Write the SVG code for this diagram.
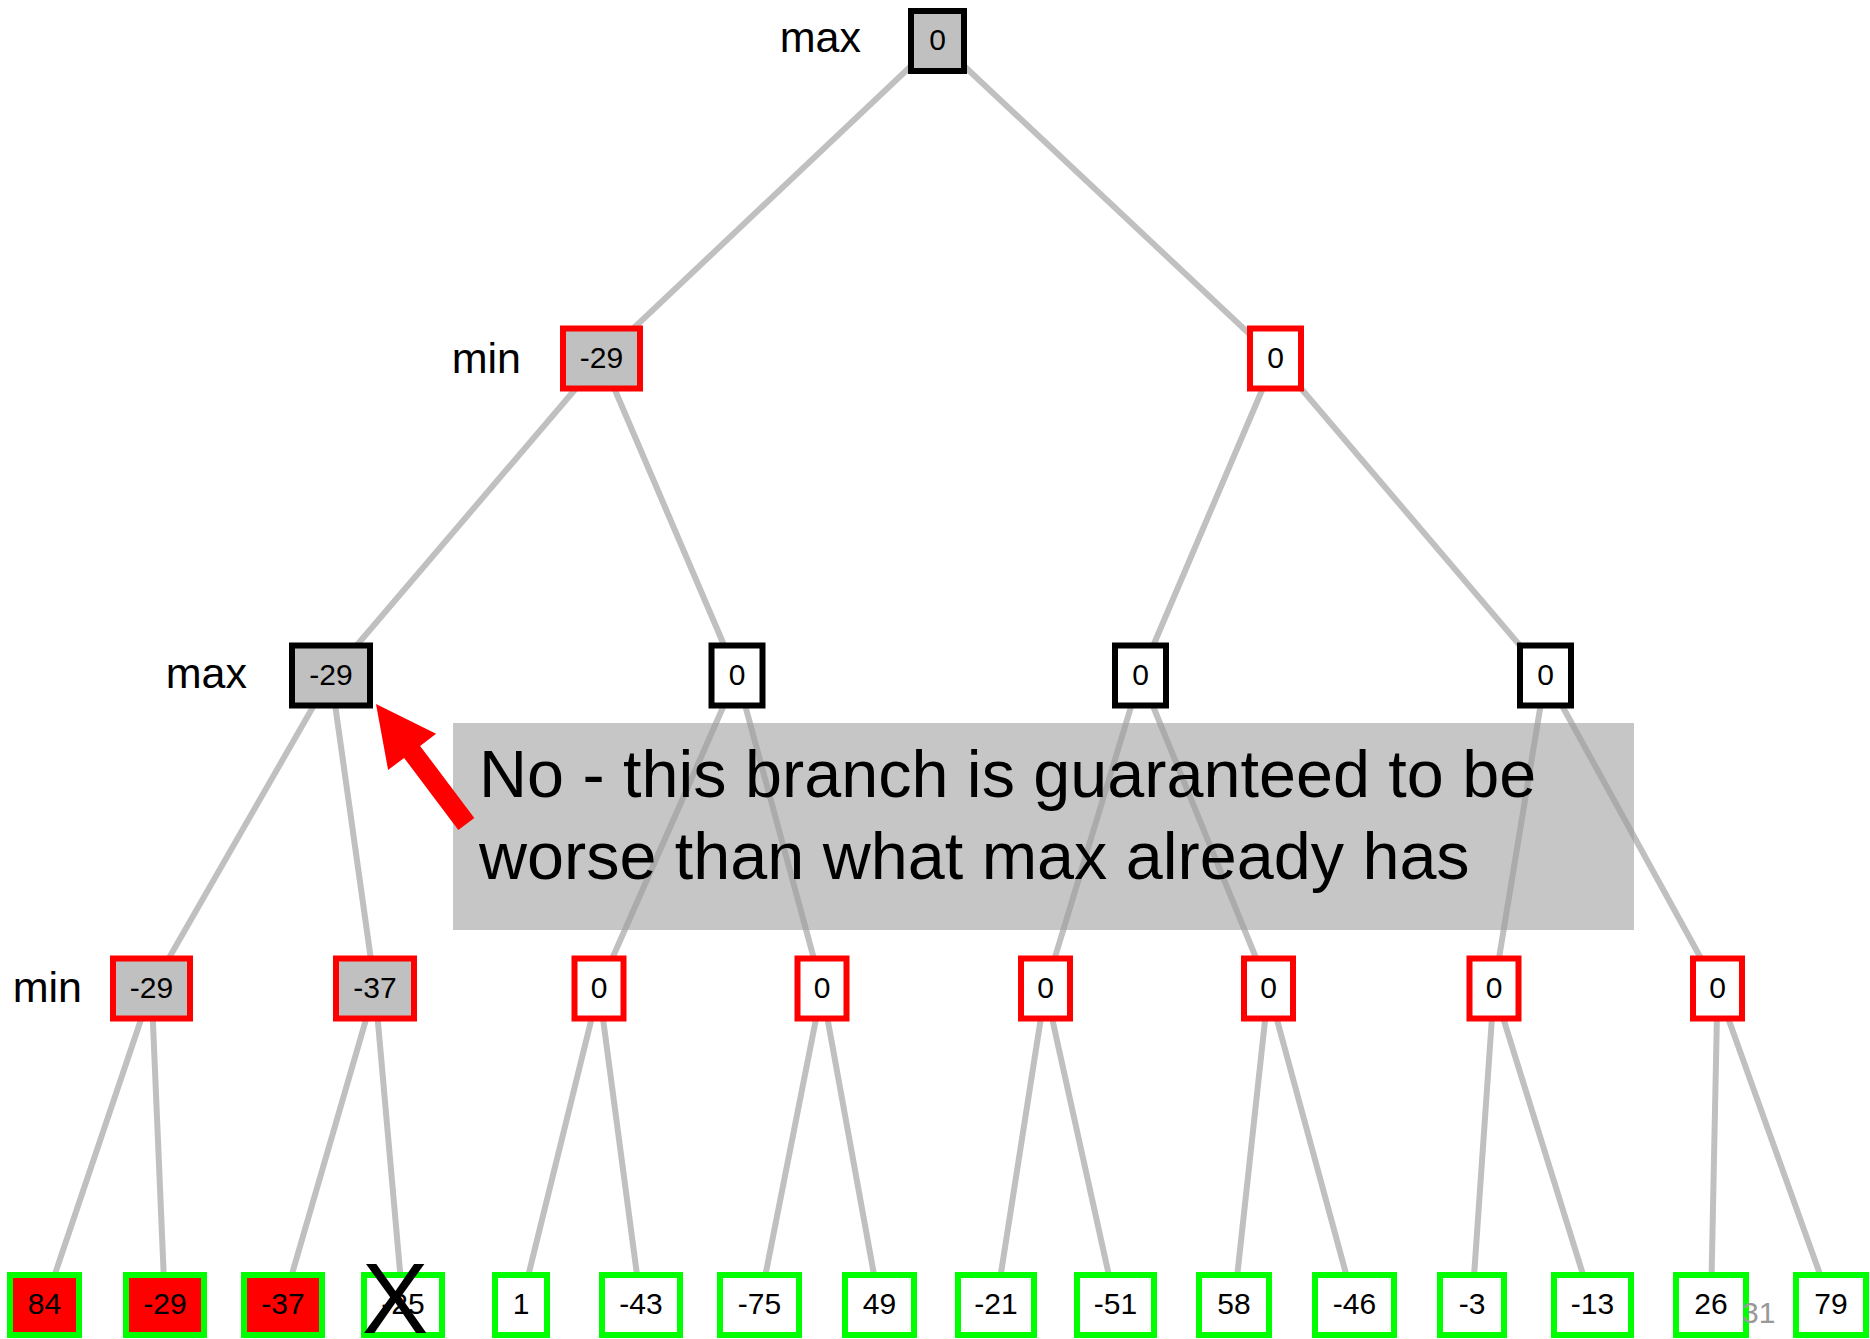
<svg xmlns="http://www.w3.org/2000/svg" width="1870" height="1339" viewBox="0 0 1870 1339">
<style>
.n rect{stroke-width:6}
.n text{font-family:"Liberation Sans",Arial,sans-serif;font-size:30px;text-anchor:middle;fill:#000}
.gray rect{fill:#c0c0c0}
.white rect{fill:#fff}
.redf rect{fill:#ff0000}
.sk rect{stroke:#000}
.sr rect{stroke:#ff0000}
.sg rect{stroke:#00ff00}
.lbl{font-family:"Liberation Sans",Arial,sans-serif;font-size:43px;fill:#000;text-anchor:end}
#edges line{stroke:#c0c0c0;stroke-width:6;stroke-linecap:round}
</style>
<rect width="1870" height="1339" fill="#fff"/>
<g id="edges">
<line x1="937.5" y1="41" x2="601.5" y2="358.5"/>
<line x1="937.5" y1="41" x2="1275.5" y2="358.5"/>
<line x1="601.5" y1="358.5" x2="331" y2="675.5"/>
<line x1="601.5" y1="358.5" x2="737" y2="675.5"/>
<line x1="1275.5" y1="358.5" x2="1140.5" y2="675.5"/>
<line x1="1275.5" y1="358.5" x2="1545.5" y2="675.5"/>
<line x1="331" y1="675.5" x2="151.5" y2="988.5"/>
<line x1="331" y1="675.5" x2="375" y2="988.5"/>
<line x1="737" y1="675.5" x2="599" y2="988.5"/>
<line x1="737" y1="675.5" x2="822" y2="988.5"/>
<line x1="1140.5" y1="675.5" x2="1045.5" y2="988.5"/>
<line x1="1140.5" y1="675.5" x2="1268.5" y2="988.5"/>
<line x1="1545.5" y1="675.5" x2="1494" y2="988.5"/>
<line x1="1545.5" y1="675.5" x2="1717.5" y2="988.5"/>
<line x1="151.5" y1="988.5" x2="44.5" y2="1305"/>
<line x1="151.5" y1="988.5" x2="165" y2="1305"/>
<line x1="375" y1="988.5" x2="283" y2="1305"/>
<line x1="375" y1="988.5" x2="403" y2="1305"/>
<line x1="599" y1="988.5" x2="521" y2="1305"/>
<line x1="599" y1="988.5" x2="641" y2="1305"/>
<line x1="822" y1="988.5" x2="759.5" y2="1305"/>
<line x1="822" y1="988.5" x2="879.5" y2="1305"/>
<line x1="1045.5" y1="988.5" x2="996" y2="1305"/>
<line x1="1045.5" y1="988.5" x2="1115.5" y2="1305"/>
<line x1="1268.5" y1="988.5" x2="1234" y2="1305"/>
<line x1="1268.5" y1="988.5" x2="1354.5" y2="1305"/>
<line x1="1494" y1="988.5" x2="1472" y2="1305"/>
<line x1="1494" y1="988.5" x2="1592.5" y2="1305"/>
<line x1="1717.5" y1="988.5" x2="1711" y2="1305"/>
<line x1="1717.5" y1="988.5" x2="1831" y2="1305"/>
</g>
<g id="labels">
<text class="lbl" x="861" y="52">max</text>
<text class="lbl" x="521" y="373">min</text>
<text class="lbl" x="247" y="688">max</text>
<text class="lbl" x="82" y="1002">min</text>
</g>
<g id="root" class="n gray sk"><rect x="911" y="11" width="53" height="60"/><text x="937.5" y="50">0</text></g>
<g id="l1a" class="n gray sr"><rect x="563" y="328.5" width="77" height="60"/><text x="601.5" y="367.5">-29</text></g>
<g id="l1b" class="n white sr"><rect x="1250" y="328.5" width="51" height="60"/><text x="1275.5" y="367.5">0</text></g>
<g id="l2a" class="n gray sk"><rect x="292" y="645.5" width="78" height="60"/><text x="331" y="684.5">-29</text></g>
<g id="l2b" class="n white sk"><rect x="711.5" y="645.5" width="51" height="60"/><text x="737" y="684.5">0</text></g>
<g id="l2c" class="n white sk"><rect x="1115" y="645.5" width="51" height="60"/><text x="1140.5" y="684.5">0</text></g>
<g id="l2d" class="n white sk"><rect x="1520" y="645.5" width="51" height="60"/><text x="1545.5" y="684.5">0</text></g>
<g id="l3a" class="n gray sr"><rect x="113" y="958.5" width="77" height="60"/><text x="151.5" y="997.5">-29</text></g>
<g id="l3b" class="n gray sr"><rect x="336" y="958.5" width="78" height="60"/><text x="375" y="997.5">-37</text></g>
<g id="l3c" class="n white sr"><rect x="574.5" y="958.5" width="49" height="60"/><text x="599" y="997.5">0</text></g>
<g id="l3d" class="n white sr"><rect x="797.5" y="958.5" width="49" height="60"/><text x="822" y="997.5">0</text></g>
<g id="l3e" class="n white sr"><rect x="1021" y="958.5" width="49" height="60"/><text x="1045.5" y="997.5">0</text></g>
<g id="l3f" class="n white sr"><rect x="1244" y="958.5" width="49" height="60"/><text x="1268.5" y="997.5">0</text></g>
<g id="l3g" class="n white sr"><rect x="1469.5" y="958.5" width="49" height="60"/><text x="1494" y="997.5">0</text></g>
<g id="l3h" class="n white sr"><rect x="1693" y="958.5" width="49" height="60"/><text x="1717.5" y="997.5">0</text></g>
<g id="leaf1" class="n redf sg"><rect x="10" y="1275" width="69" height="60"/><text x="44.5" y="1314">84</text></g>
<g id="leaf2" class="n redf sg"><rect x="126" y="1275" width="78" height="60"/><text x="165" y="1314">-29</text></g>
<g id="leaf3" class="n redf sg"><rect x="244" y="1275" width="78" height="60"/><text x="283" y="1314">-37</text></g>
<g id="leaf4" class="n white sg"><rect x="364" y="1275" width="78" height="60"/><text x="403" y="1314">-25</text></g>
<g id="leaf5" class="n white sg"><rect x="495" y="1275" width="52" height="60"/><text x="521" y="1314">1</text></g>
<g id="leaf6" class="n white sg"><rect x="602" y="1275" width="78" height="60"/><text x="641" y="1314">-43</text></g>
<g id="leaf7" class="n white sg"><rect x="720" y="1275" width="79" height="60"/><text x="759.5" y="1314">-75</text></g>
<g id="leaf8" class="n white sg"><rect x="845" y="1275" width="69" height="60"/><text x="879.5" y="1314">49</text></g>
<g id="leaf9" class="n white sg"><rect x="958" y="1275" width="76" height="60"/><text x="996" y="1314">-21</text></g>
<g id="leaf10" class="n white sg"><rect x="1077" y="1275" width="77" height="60"/><text x="1115.5" y="1314">-51</text></g>
<g id="leaf11" class="n white sg"><rect x="1199" y="1275" width="70" height="60"/><text x="1234" y="1314">58</text></g>
<g id="leaf12" class="n white sg"><rect x="1315" y="1275" width="79" height="60"/><text x="1354.5" y="1314">-46</text></g>
<g id="leaf13" class="n white sg"><rect x="1440" y="1275" width="64" height="60"/><text x="1472" y="1314">-3</text></g>
<g id="leaf14" class="n white sg"><rect x="1554" y="1275" width="77" height="60"/><text x="1592.5" y="1314">-13</text></g>
<g id="leaf15" class="n white sg"><rect x="1676" y="1275" width="70" height="60"/><text x="1711" y="1314">26</text></g>
<g id="leaf16" class="n white sg"><rect x="1796" y="1275" width="70" height="60"/><text x="1831" y="1314">79</text></g>
<g id="callout">
<rect x="453" y="723" width="1181" height="207" fill="#9b9b9b" fill-opacity="0.57"/>
<text font-family="Liberation Sans, Arial, sans-serif" font-size="66.5" fill="#000"><tspan x="479" y="797">No - this branch is guaranteed to be</tspan><tspan x="479" y="879">worse than what max already has</tspan></text>
</g>
<polygon id="arrow" points="376,704 436.1,733.8 420.1,745.9 474.3,817.9 458.3,829.9 404.1,757.9 388.1,770" fill="#ff0000"/>
<text id="cross" x="395" y="1333" font-family="Liberation Sans, Arial, sans-serif" font-size="100" text-anchor="middle" fill="#000">X</text>
<text id="page" x="1742" y="1323" font-family="Liberation Sans, Arial, sans-serif" font-size="30" fill="#999">31</text>
</svg>
